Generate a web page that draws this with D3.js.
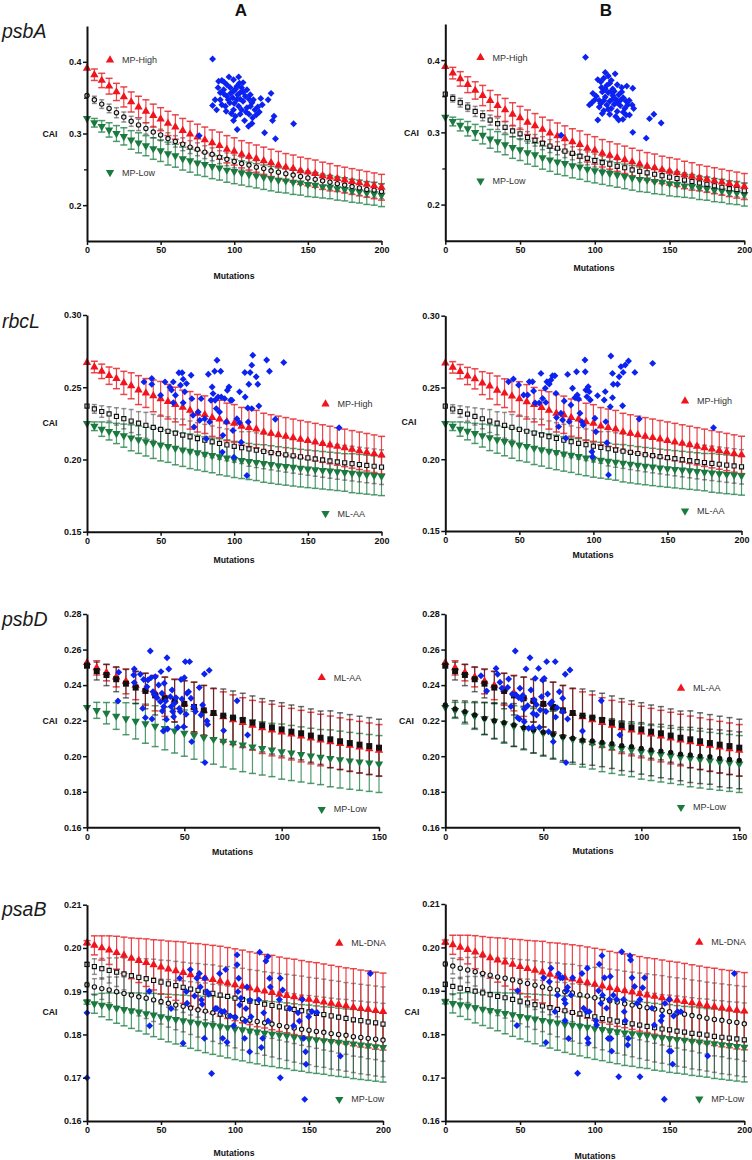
<!DOCTYPE html>
<html>
<head>
<meta charset="utf-8">
<script src="https://cdn.jsdelivr.net/npm/d3@7/dist/d3.min.js"></script>
<style>
  body { margin: 0; background: #fff; }
  svg { display: block; font-family: Arial, "Liberation Sans", Helvetica, sans-serif; }
</style>
</head>
<body>
<svg id="fig" width="752" height="1160"></svg>
<script>
/* ── CAI vs mutations — 4 genes x 2 columns ─────────────────── */

// x categories (mutation counts)
const MUT200 = [0,5,10,15,20,25,30,35,40,45,50,55,60,65,70,75,80,85,90,95,100,105,110,115,120,125,130,135,140,145,150,155,160,165,170,175,180,185,190,195,200];
const MUT150 = [0,5,10,15,20,25,30,35,40,45,50,55,60,65,70,75,80,85,90,95,100,105,110,115,120,125,130,135,140,145,150];

/* psbA */
const psbA_high   = [0.391,0.382,0.374,0.366,0.358,0.351,0.344,0.337,0.331,0.325,0.320,0.314,0.309,0.304,0.299,0.295,0.291,0.287,0.283,0.278,0.275,0.271,0.268,0.265,0.262,0.259,0.256,0.253,0.251,0.248,0.246,0.244,0.241,0.239,0.237,0.235,0.233,0.231,0.229,0.227,0.225];
const psbA_highSD = [0,0.008,0.010,0.011,0.012,0.014,0.014,0.015,0.016,0.016,0.016,0.017,0.017,0.017,0.018,0.018,0.018,0.018,0.019,0.019,0.019,0.019,0.019,0.019,0.019,0.019,0.019,0.019,0.019,0.019,0.019,0.019,0.019,0.019,0.018,0.018,0.018,0.018,0.018,0.018,0.018];
const psbA_low    = [0.321,0.315,0.310,0.305,0.300,0.296,0.291,0.287,0.283,0.279,0.276,0.272,0.269,0.265,0.262,0.259,0.257,0.254,0.252,0.249,0.247,0.245,0.243,0.241,0.239,0.237,0.235,0.234,0.232,0.231,0.229,0.228,0.226,0.225,0.223,0.222,0.220,0.219,0.217,0.216,0.214];
const psbA_lowSD  = [0,0.006,0.008,0.010,0.011,0.012,0.013,0.014,0.014,0.015,0.015,0.016,0.016,0.016,0.016,0.017,0.017,0.017,0.017,0.017,0.017,0.017,0.017,0.017,0.017,0.017,0.017,0.017,0.017,0.017,0.017,0.017,0.016,0.016,0.016,0.016,0.016,0.016,0.016,0.016,0.016];
const psbA_mid    = [0.353,0.347,0.341,0.335,0.329,0.323,0.317,0.312,0.307,0.302,0.298,0.293,0.289,0.285,0.281,0.278,0.274,0.271,0.267,0.264,0.261,0.258,0.256,0.253,0.251,0.248,0.246,0.244,0.242,0.240,0.238,0.236,0.234,0.232,0.230,0.228,0.226,0.224,0.222,0.221,0.219];
const psbA_midSD  = [0,0.005,0.006,0.006,0.007,0.007,0.007,0.008,0.008,0.008,0.008,0.008,0.008,0.009,0.009,0.009,0.009,0.009,0.009,0.009,0.009,0.009,0.009,0.009,0.009,0.009,0.009,0.010,0.010,0.010,0.010,0.010,0.010,0.010,0.010,0.010,0.010,0.010,0.010,0.010,0.010];
const psbA_blueA = [[85.3,0.404],[76.2,0.297],[85.3,0.339],[140.3,0.3135],[128,0.2926],[120.6,0.301],[102,0.3056],[125,0.356],[127,0.324],[126,0.318],[118,0.349],[109.7,0.310],[112,0.314],[103,0.379],[96.4,0.379],[89.4,0.373],[91.6,0.374],[99.5,0.375],[108.6,0.361],[106,0.371],[88,0.333],[90.5,0.347],[95,0.352],[99.5,0.359],[101.8,0.347],[104,0.357],[97,0.343],[99.5,0.333],[103,0.338],[106,0.345],[108.6,0.336],[112,0.343],[114,0.333],[115,0.326],[100.7,0.324],[97.3,0.364],[92.8,0.361],[90.5,0.357],[105,0.364],[110.9,0.354],[113,0.347],[94,0.338],[104,0.327],[95,0.368],[101.8,0.366],[107.5,0.352],[91.6,0.340],[87,0.347],[98.9,0.350],[102.3,0.354],[105,0.333],[110,0.327],[99.5,0.318],[93,0.372],[97.5,0.356],[100,0.342],[108,0.330],[111,0.338],[116,0.337],[104,0.348],[96,0.347],[93,0.355],[106,0.358],[101,0.362],[110,0.348],[98,0.328],[112.5,0.322],[89,0.364],[103.5,0.370],[117,0.330],[94.5,0.331],[107,0.318],[123,0.347],[119,0.340]];
const psbA_blueB = [[93.8,0.404],[77.5,0.296],[102,0.317],[125.4,0.300],[134.4,0.292],[144.4,0.313],[136.6,0.319],[139.5,0.325],[96.4,0.338],[107,0.383],[113.6,0.381],[102,0.373],[125.4,0.361],[121.4,0.364],[116,0.317],[118.8,0.318],[123.2,0.324],[98.7,0.354],[104,0.370],[106,0.375],[109,0.378],[111,0.372],[104.5,0.362],[108,0.365],[112,0.360],[115,0.366],[118,0.356],[101,0.350],[103,0.344],[105,0.356],[107,0.349],[109,0.355],[110,0.343],[112,0.351],[114,0.346],[116,0.352],[119,0.348],[121,0.343],[108,0.338],[111,0.333],[113,0.339],[115,0.329],[117,0.337],[120,0.333],[122,0.338],[106,0.330],[110,0.325],[104,0.340],[100,0.345],[98,0.341],[113,0.357],[117,0.344],[119,0.328],[123,0.344],[125,0.338],[107,0.360],[110,0.368],[103,0.335],[109,0.332],[114,0.322],[121,0.324],[126,0.333],[112,0.346],[115,0.341],[106,0.344],[118,0.362],[111,0.357],[105,0.326]];

/* rbcL */
const rbcL_high   = [0.267,0.264,0.261,0.258,0.256,0.253,0.251,0.248,0.246,0.244,0.242,0.240,0.238,0.236,0.234,0.232,0.231,0.229,0.228,0.226,0.225,0.223,0.222,0.221,0.219,0.218,0.217,0.216,0.215,0.214,0.213,0.212,0.211,0.210,0.209,0.208,0.207,0.206,0.205,0.204,0.203];
const rbcL_highSD = [0,0.004,0.005,0.006,0.007,0.008,0.009,0.010,0.010,0.011,0.012,0.012,0.012,0.012,0.013,0.013,0.013,0.013,0.013,0.013,0.013,0.013,0.013,0.013,0.013,0.013,0.013,0.013,0.013,0.013,0.013,0.013,0.013,0.013,0.013,0.013,0.013,0.013,0.013,0.013,0.013];
const rbcL_aa     = [0.225,0.223,0.221,0.2195,0.218,0.2165,0.215,0.2137,0.2124,0.2112,0.210,0.209,0.2078,0.2067,0.2057,0.2047,0.2037,0.2028,0.2019,0.201,0.200,0.1993,0.1986,0.1979,0.1972,0.1965,0.1958,0.1952,0.1946,0.194,0.1935,0.193,0.1925,0.192,0.1915,0.191,0.1905,0.19,0.1895,0.189,0.1885];
const rbcL_aaSD   = [0,0.003,0.005,0.006,0.007,0.008,0.009,0.0095,0.010,0.0105,0.011,0.011,0.0115,0.0115,0.012,0.012,0.012,0.012,0.0125,0.0125,0.0125,0.0125,0.0125,0.0125,0.013,0.013,0.013,0.013,0.013,0.013,0.013,0.013,0.013,0.013,0.013,0.013,0.0135,0.0135,0.0135,0.0135,0.0135];
const rbcL_mid    = [0.2370,0.2350,0.2332,0.2315,0.2298,0.2282,0.2266,0.2251,0.2236,0.2222,0.2208,0.2195,0.2182,0.2169,0.2157,0.2145,0.2133,0.2122,0.2111,0.2101,0.2091,0.2082,0.2073,0.2064,0.2056,0.2048,0.2040,0.2032,0.2025,0.2018,0.2011,0.2004,0.1997,0.1990,0.1983,0.1977,0.1971,0.1965,0.1959,0.1953,0.1947];
const rbcL_midSD  = [0,0.003,0.004,0.005,0.006,0.007,0.008,0.008,0.009,0.009,0.010,0.010,0.010,0.011,0.011,0.011,0.011,0.011,0.011,0.011,0.011,0.011,0.012,0.012,0.012,0.012,0.012,0.012,0.012,0.012,0.012,0.012,0.012,0.012,0.012,0.012,0.012,0.012,0.012,0.012,0.012];
const rbcL_blueA = [[38.7,0.2537],[44,0.256],[44,0.252],[53,0.2537],[50,0.2444],[56.3,0.250],[57.4,0.248],[58.6,0.2537],[58.6,0.2393],[60.1,0.2444],[62.4,0.260],[64.6,0.260],[63.5,0.2514],[65.3,0.2556],[66.4,0.2468],[65.3,0.2393],[67.6,0.2525],[70.7,0.2583],[71.2,0.2421],[72,0.2306],[72.7,0.2225],[75.5,0.2329],[76.6,0.2271],[77.5,0.2421],[80,0.2282],[81,0.2144],[82.4,0.259],[83.3,0.226],[84.2,0.241],[85,0.2502],[85.6,0.2456],[86.7,0.2611],[87,0.241],[87.8,0.2352],[88.3,0.2687],[89,0.2433],[90,0.2329],[90.8,0.2611],[91.2,0.2433],[91.9,0.2051],[92.3,0.2167],[93.5,0.2421],[94.6,0.2259],[95.3,0.2479],[96.4,0.2502],[97.5,0.241],[98.4,0.241],[99.8,0.2016],[101.8,0.2282],[103.6,0.2468],[104.7,0.212],[107.2,0.2602],[107.4,0.2433],[108.6,0.1889],[109.5,0.2259],[109.9,0.2521],[110.8,0.2602],[111.9,0.2653],[112.6,0.2722],[111.9,0.2352],[114.9,0.2572],[116,0.2521],[116.7,0.237],[122,0.2688],[123.9,0.2611],[127.9,0.2278],[133.6,0.2671],[171.2,0.222],[109.2,0.2356],[99.1,0.2201],[103.6,0.2255]];
const rbcL_blueB = [[42.7,0.254],[46,0.2559],[49.5,0.2517],[52.9,0.2447],[55.6,0.2447],[56.7,0.254],[58.9,0.254],[59.6,0.2475],[60.7,0.2392],[64.6,0.2598],[63.4,0.2392],[65.7,0.2424],[67.5,0.2494],[67.9,0.2396],[68.6,0.254],[70.2,0.2524],[71.3,0.2552],[72.4,0.2582],[74,0.2582],[74.7,0.2459],[75.1,0.229],[76.5,0.2227],[78.1,0.232],[79.2,0.2273],[80.3,0.2406],[81.4,0.2146],[82.6,0.2591],[83.7,0.2262],[84.8,0.2378],[85.9,0.2494],[87.5,0.2429],[88.6,0.261],[89.1,0.2447],[90,0.242],[90.9,0.232],[92.2,0.2262],[93.1,0.2238],[94.3,0.2691],[94.5,0.261],[94.9,0.2482],[95.6,0.2436],[96.5,0.2505],[97.2,0.2471],[97.9,0.2413],[99,0.2053],[99.4,0.2018],[101,0.2285],[101.7,0.2192],[102.8,0.2443],[107.3,0.2413],[108,0.2471],[108.4,0.2262],[109.1,0.2115],[110.2,0.1891],[111.4,0.2366],[111.8,0.2719],[112.9,0.2598],[112.9,0.2429],[113.4,0.2522],[116.3,0.2522],[117.4,0.2575],[118.6,0.2645],[119.7,0.2373],[120.1,0.2605],[121.5,0.2656],[123.7,0.2684],[128,0.2605],[130.9,0.228],[140,0.2668],[181.1,0.222]];

/* psbD */
const psbD_aa     = [0.2526,0.2497,0.2470,0.2445,0.2421,0.2398,0.2376,0.2355,0.2334,0.2314,0.2295,0.2276,0.2258,0.2240,0.2222,0.2205,0.2189,0.2174,0.2160,0.2147,0.2136,0.2124,0.2113,0.2102,0.2091,0.2081,0.2071,0.2061,0.2051,0.2042,0.2033];
const psbD_aaSD   = [0,0.004,0.0046,0.0055,0.007,0.008,0.009,0.010,0.011,0.012,0.013,0.014,0.014,0.014,0.014,0.014,0.014,0.014,0.0145,0.0145,0.0145,0.0145,0.0145,0.0145,0.0145,0.0145,0.0145,0.0145,0.0145,0.0145,0.0145];
const psbD_sq     = [0.2509,0.2479,0.2457,0.2433,0.2408,0.2386,0.2367,0.2342,0.2326,0.2311,0.2294,0.2277,0.2258,0.2243,0.2228,0.2217,0.2204,0.2189,0.2174,0.2162,0.2151,0.2138,0.2129,0.2116,0.2104,0.2095,0.2084,0.2074,0.2065,0.2057,0.2048];
const psbD_sqSD   = [0,0.005,0.006,0.007,0.008,0.009,0.010,0.011,0.012,0.012,0.013,0.014,0.014,0.014,0.015,0.015,0.015,0.015,0.015,0.015,0.015,0.015,0.015,0.015,0.015,0.016,0.016,0.016,0.016,0.016,0.016];
const psbD_low    = [0.2275,0.2258,0.2242,0.2226,0.2211,0.2197,0.2183,0.2169,0.2156,0.2143,0.2130,0.2118,0.2106,0.2095,0.2084,0.2073,0.2063,0.2053,0.2044,0.2035,0.2026,0.2018,0.2010,0.2002,0.1995,0.1988,0.1981,0.1974,0.1968,0.1962,0.1956];
const psbD_lowSD  = [0,0.0045,0.006,0.0075,0.009,0.010,0.011,0.0115,0.012,0.0125,0.013,0.0135,0.014,0.014,0.0145,0.0145,0.015,0.015,0.015,0.015,0.0155,0.0155,0.0155,0.0155,0.0155,0.016,0.016,0.016,0.016,0.016,0.016];
const psbD_circ   = [0.2288,0.2266,0.2251,0.2232,0.2213,0.2200,0.2189,0.2176,0.2161,0.2148,0.2135,0.2123,0.2110,0.2101,0.2091,0.2086,0.2078,0.2071,0.2059,0.2054,0.2044,0.2035,0.2029,0.2022,0.2012,0.2007,0.2001,0.1997,0.1988,0.1982,0.1977];
const psbD_circSD = [0,0.0047,0.006,0.0075,0.009,0.010,0.011,0.012,0.012,0.013,0.013,0.0135,0.0135,0.0135,0.0137,0.0137,0.0137,0.014,0.014,0.014,0.0145,0.0145,0.015,0.015,0.015,0.0155,0.0155,0.0155,0.016,0.016,0.016];
const psbD_blueA = [[16.3,0.2472],[15.9,0.2311],[24,0.2457],[24.3,0.2491],[24.3,0.2414],[27.4,0.2461],[28.6,0.2269],[29.1,0.2432],[30,0.2217],[30.8,0.2391],[31.3,0.2429],[32.5,0.2592],[32.9,0.2442],[33.4,0.2209],[33.9,0.2363],[34.6,0.2348],[35.1,0.2447],[36,0.2329],[36.8,0.2401],[37.7,0.2307],[38,0.2476],[38.5,0.2354],[38.7,0.2254],[39.2,0.2142],[39.4,0.2279],[39.7,0.241],[40.4,0.2311],[40.8,0.2207],[41.1,0.2554],[41.4,0.2153],[42,0.2491],[42.8,0.2335],[43.2,0.2279],[43.7,0.2372],[44,0.2251],[44.5,0.2222],[44.9,0.2297],[45.7,0.2329],[46.6,0.2161],[47.4,0.2269],[47.9,0.2251],[48.3,0.2432],[48.8,0.2322],[49.7,0.2166],[50,0.2442],[50.5,0.2532],[50.9,0.2236],[51.4,0.2354],[52.2,0.2363],[52.7,0.2532],[53.4,0.2326],[53.8,0.2082],[54.8,0.2279],[55.7,0.2251],[57.7,0.2386],[58.6,0.2232],[59.4,0.2288],[60.3,0.2462],[60.6,0.1964],[61.6,0.2198],[62,0.2179],[62.8,0.2483],[70.2,0.2144],[77.1,0.2312],[82.5,0.2119]];
const psbD_blueB = [[18.2,0.2453],[21.1,0.2367],[25.9,0.2494],[26.7,0.2461],[27.9,0.2416],[28.9,0.2382],[32.3,0.2434],[35.7,0.2592],[36.1,0.2344],[36.9,0.2217],[37.8,0.2209],[38.1,0.2382],[39.5,0.2341],[40.3,0.2266],[41.2,0.2491],[42,0.2284],[43.2,0.2554],[43.7,0.2372],[44.6,0.2161],[45.4,0.2316],[45.9,0.2438],[46.6,0.2232],[47.6,0.2494],[48,0.2161],[49.1,0.2335],[49.7,0.2429],[50.5,0.2438],[51.4,0.2251],[51.7,0.2532],[52.2,0.235],[52.7,0.2138],[54.4,0.2307],[55.1,0.2082],[56.1,0.2532],[57,0.2273],[58.2,0.2363],[59.9,0.2326],[61.2,0.2461],[61.6,0.1964],[62.4,0.2209],[63.6,0.2485],[59.9,0.2251],[40.3,0.2194],[42.5,0.2157],[31.8,0.2387],[34.2,0.2350],[37.4,0.2330],[39,0.2320],[33.5,0.2280],[44.8,0.2240],[46.5,0.2290],[48.4,0.2260],[53.5,0.2295],[56.3,0.2220],[79.6,0.2312],[70,0.2142],[89.1,0.2119]];

/* psaB */
const psaB_dna     = [0.2012,0.2006,0.2000,0.1995,0.1989,0.1983,0.1976,0.1971,0.1966,0.1961,0.1956,0.1951,0.1947,0.1943,0.1938,0.1934,0.1930,0.1927,0.1923,0.1919,0.1915,0.1911,0.1907,0.1903,0.1900,0.1897,0.1893,0.1890,0.1887,0.1884,0.1881,0.1878,0.1875,0.1872,0.1869,0.1866,0.1863,0.1860,0.1858,0.1855,0.1853];
const psaB_dnaSD   = [0.0005,0.0022,0.0028,0.0033,0.0038,0.0042,0.0047,0.0051,0.0055,0.0058,0.0062,0.0065,0.0068,0.0071,0.0073,0.0076,0.0078,0.0079,0.0081,0.0082,0.0083,0.0084,0.0084,0.0085,0.0085,0.0086,0.0086,0.0086,0.0087,0.0087,0.0087,0.0088,0.0088,0.0088,0.0088,0.0088,0.0089,0.0089,0.0089,0.0089,0.0089];
const psaB_upper   = [0.1962,0.1957,0.1952,0.1948,0.1944,0.1940,0.1936,0.1932,0.1929,0.1925,0.1921,0.1917,0.1913,0.1909,0.1905,0.1902,0.1898,0.1895,0.1891,0.1888,0.1884,0.1881,0.1877,0.1874,0.1870,0.1867,0.1864,0.1861,0.1858,0.1855,0.1852,0.1849,0.1846,0.1843,0.1840,0.1837,0.1834,0.1832,0.1829,0.1827,0.1824];
const psaB_upperSD = [0.0005,0.0018,0.0024,0.0029,0.0033,0.0037,0.0040,0.0043,0.0046,0.0049,0.0051,0.0054,0.0056,0.0058,0.0060,0.0062,0.0064,0.0066,0.0067,0.0069,0.0070,0.0072,0.0073,0.0074,0.0075,0.0076,0.0077,0.0078,0.0079,0.0080,0.0080,0.0081,0.0082,0.0082,0.0083,0.0083,0.0084,0.0084,0.0085,0.0085,0.0086];
const psaB_lower   = [0.1915,0.1910,0.1906,0.1903,0.1899,0.1895,0.1891,0.1887,0.1884,0.1880,0.1876,0.1872,0.1868,0.1865,0.1861,0.1857,0.1854,0.1850,0.1847,0.1843,0.1840,0.1836,0.1833,0.1830,0.1827,0.1824,0.1821,0.1818,0.1815,0.1812,0.1810,0.1807,0.1805,0.1802,0.1800,0.1798,0.1795,0.1793,0.1791,0.1789,0.1787];
const psaB_lowerSD = [0.0005,0.0019,0.0025,0.0030,0.0034,0.0038,0.0041,0.0044,0.0047,0.0050,0.0052,0.0055,0.0057,0.0059,0.0061,0.0063,0.0065,0.0066,0.0068,0.0069,0.0071,0.0072,0.0073,0.0074,0.0075,0.0076,0.0077,0.0078,0.0079,0.0079,0.0080,0.0081,0.0081,0.0082,0.0082,0.0083,0.0083,0.0084,0.0084,0.0085,0.0085];
const psaB_low     = [0.1875,0.1871,0.1868,0.1865,0.1861,0.1858,0.1855,0.1852,0.1848,0.1845,0.1841,0.1838,0.1835,0.1832,0.1829,0.1826,0.1823,0.1821,0.1818,0.1816,0.1813,0.1811,0.1808,0.1806,0.1803,0.1801,0.1799,0.1797,0.1794,0.1792,0.1790,0.1788,0.1786,0.1784,0.1782,0.1780,0.1778,0.1776,0.1774,0.1772,0.1770];
const psaB_lowSD   = [0.0005,0.0022,0.0027,0.0031,0.0035,0.0038,0.0041,0.0044,0.0047,0.0050,0.0052,0.0055,0.0057,0.0059,0.0061,0.0063,0.0065,0.0067,0.0068,0.0070,0.0071,0.0072,0.0073,0.0074,0.0075,0.0075,0.0076,0.0076,0.0077,0.0077,0.0078,0.0078,0.0078,0.0079,0.0079,0.0079,0.0080,0.0080,0.0080,0.0080,0.0080];
const psaB_blueA = [[0,0.185],[0,0.170],[42.1,0.190],[42.3,0.182],[56.8,0.186],[62.6,0.193],[64.9,0.178],[67.1,0.1899],[67.6,0.1872],[69.8,0.195],[72.7,0.1889],[74.3,0.193],[75.9,0.1941],[76.6,0.191],[77.3,0.188],[77.9,0.187],[79.3,0.1791],[79.5,0.193],[81.1,0.1899],[82.2,0.1893],[84.2,0.171],[86.7,0.186],[87.8,0.186],[89.6,0.1941],[90.8,0.1853],[91.7,0.1791],[92.8,0.1853],[93.7,0.195],[94.6,0.1782],[96.8,0.1843],[99.1,0.182],[100.2,0.184],[101.4,0.1984],[101.4,0.1961],[102,0.1899],[102.5,0.193],[103.2,0.1868],[104,0.1884],[106.5,0.1791],[107,0.1831],[107.4,0.186],[108.1,0.191],[109.9,0.176],[110.1,0.1879],[110.8,0.1841],[116,0.188],[116.7,0.199],[117.8,0.177],[118.7,0.1791],[119.4,0.185],[120.9,0.197],[122.3,0.198],[123.4,0.193],[123.9,0.191],[122.3,0.1831],[130,0.1881],[130.6,0.170],[130.6,0.193],[132.2,0.1903],[137,0.186],[139.6,0.182],[142.6,0.185],[143.5,0.1831],[145.5,0.1881],[146.4,0.1791],[147.1,0.165],[147.7,0.176],[148,0.1731],[149.8,0.1841],[152,0.1853],[155.4,0.1851],[171.2,0.175],[191.4,0.1941]];
const psaB_blueB = [[47.9,0.182],[48.4,0.190],[67.3,0.1781],[65.8,0.193],[69.6,0.1921],[70.7,0.1952],[73.4,0.1852],[75.1,0.189],[75.8,0.1939],[76.9,0.193],[78.5,0.193],[79.6,0.188],[80.3,0.1871],[80.1,0.1831],[81.2,0.190],[81.8,0.1908],[82.5,0.179],[84.1,0.189],[85.2,0.193],[88.5,0.171],[91.4,0.194],[92.5,0.186],[94.5,0.1852],[95,0.1952],[95.2,0.179],[95.7,0.178],[96.3,0.1852],[100.8,0.1831],[101.2,0.1821],[102.5,0.190],[103,0.1961],[104.1,0.1871],[104.8,0.1981],[105.2,0.189],[106.5,0.193],[107.9,0.186],[109,0.179],[109.7,0.188],[110.4,0.1933],[110.8,0.179],[111.3,0.1761],[112.4,0.189],[114.6,0.188],[116,0.1702],[118,0.199],[119.3,0.188],[119.7,0.1852],[120.4,0.1831],[122,0.1775],[122.4,0.179],[123.5,0.1981],[124,0.1971],[124.9,0.193],[126.6,0.191],[128.2,0.1871],[130.2,0.1702],[130.2,0.188],[132,0.1907],[133.3,0.193],[138.2,0.186],[139.8,0.1821],[144.3,0.1831],[145,0.1842],[146.5,0.165],[146.9,0.1871],[149.8,0.188],[149.8,0.1761],[151,0.1761],[152.1,0.1731],[152.7,0.1842],[155.4,0.1852],[157.6,0.1852],[175.5,0.175],[193.3,0.194]];

/* axis ticks */
const psbA_yTicks = [0.2, 0.3, 0.4];
const psbA_yMinor = [0.25, 0.35];
const rbcL_yTicks = [0.15, 0.20, 0.25, 0.30];
const psbD_yTicks = [0.16, 0.18, 0.20, 0.22, 0.24, 0.26, 0.28];
const psaB_yTicks = [0.16, 0.17, 0.18, 0.19, 0.20, 0.21];
const xTicks200 = [0, 50, 100, 150, 200];
const xTicks150 = [0, 50, 100, 150];

/* ── styles ─────────────────────────────────────────────────── */
const RED = '#f2141c';
const GREEN = '#1b7a3f';
const BLUE = '#0b22f0';
const INK = '#111';

const BAR = {
    red:   { stroke: '#e8262c', opacity: 0.85, cap: 7 },
    green: { stroke: '#23824a', opacity: 0.8, cap: 7 },
    gray:  { stroke: '#3a3a3a', opacity: 0.55, cap: 5 },
    dark:  { stroke: '#1a1a1a', opacity: 0.65, cap: 6 },
};

const SIZES = { up: 30, down: 30, sq: 36, sqOpen: 17, circ: 22, circOpen: 15, diamond: 24 };

const svg = d3.select('#fig');

function symbolPath(kind) {
    const size = SIZES[kind] || 20;
    if (kind === 'up' || kind === 'down') return d3.symbol().type(d3.symbolTriangle).size(size)();
    if (kind === 'sq' || kind === 'sqOpen' || kind === 'diamond') return d3.symbol().type(d3.symbolSquare).size(size)();
    return d3.symbol().type(d3.symbolCircle).size(size)();
}

function drawSymbol(sel, kind, color) {
    const rot = kind === 'down' ? ' rotate(180)' : kind === 'diamond' ? ' rotate(45)' : '';
    const open = kind === 'sqOpen' || kind === 'circOpen';
    sel.append('path')
        .attr('d', symbolPath(kind))
        .attr('transform', d => `translate(${d.px},${d.py})${rot}`)
        .attr('fill', open ? '#e6e6e6' : color)
        .attr('stroke', open ? color : 'none')
        .attr('stroke-width', open ? 1.1 : 0);
}

function drawPanel(p) {
    const g = svg.append('g');
    const x = d3.scaleLinear().domain([0, p.xMax]).range([p.x0, p.x1]);
    const y = d3.scaleLinear().domain(p.yDom).range([p.yB, p.yT]);

    // error bars
    p.series.forEach(s => {
        const st = BAR[s.bar];
        const rows = s.x.map((xv, i) => ({ x: xv, m: s.m[i], sd: s.sd[i] })).filter(d => d.sd > 0);
        const eg = g.append('g').attr('stroke', st.stroke).attr('stroke-opacity', st.opacity).attr('stroke-width', 1.2);
        rows.forEach(d => {
            const cx = x(d.x), yt = y(d.m + d.sd), yb = y(d.m - d.sd);
            eg.append('line').attr('x1', cx).attr('x2', cx).attr('y1', yt).attr('y2', yb);
            eg.append('line').attr('x1', cx - st.cap / 2).attr('x2', cx + st.cap / 2).attr('y1', yt).attr('y2', yt).attr('stroke-width', 1.5);
            eg.append('line').attr('x1', cx - st.cap / 2).attr('x2', cx + st.cap / 2).attr('y1', yb).attr('y2', yb).attr('stroke-width', 1.5);
        });
    });

    // mean markers
    p.series.forEach(s => {
        const pts = s.x.map((xv, i) => ({ px: x(xv), py: y(s.m[i]) }));
        const mg = g.append('g').selectAll('g').data(pts).enter().append('g');
        drawSymbol(mg, s.kind, s.color);
    });

    // blue scatter
    const bp = p.blue.map(d => ({ px: x(d[0]), py: y(d[1]) }));
    drawSymbol(g.append('g').selectAll('g').data(bp).enter().append('g'), 'diamond', BLUE);

    // axes
    const xa = g.append('g').attr('transform', `translate(0,${p.yB})`)
        .call(d3.axisBottom(x).tickValues(p.xTicks).tickSize(4).tickSizeOuter(0).tickPadding(2).tickFormat(d3.format('d')));
    const ya = g.append('g').attr('transform', `translate(${p.x0},0)`)
        .call(d3.axisLeft(y).tickValues(p.yTicks).tickSize(4).tickSizeOuter(0).tickPadding(1.5).tickFormat(d3.format(p.fmt)));
    if (p.yMinor) {
        const mi = g.append('g').attr('transform', `translate(${p.x0},0)`)
            .call(d3.axisLeft(y).tickValues(p.yMinor).tickSize(3).tickFormat(''));
        mi.select('.domain').remove();
        mi.selectAll('line').attr('stroke', INK).attr('stroke-width', 1.3);
    }
    [xa, ya].forEach(a => {
        a.select('.domain').attr('stroke', INK).attr('stroke-width', 2);
        a.selectAll('.tick line').attr('stroke', INK).attr('stroke-width', 1.5);
        a.selectAll('.tick text').attr('fill', INK).attr('font-size', 9).attr('font-weight', 'bold')
            .attr('font-family', 'Arial, "Liberation Sans", sans-serif');
    });

    // axis titles
    g.append('text').attr('x', p.caiX).attr('y', p.caiY).attr('text-anchor', 'middle')
        .attr('dominant-baseline', 'central').attr('font-size', 8.7).attr('font-weight', 'bold')
        .attr('fill', INK).text('CAI');
    g.append('text').attr('x', p.mutX).attr('y', p.mutY).attr('text-anchor', 'middle')
        .attr('dominant-baseline', 'central').attr('font-size', 8.7).attr('font-weight', 'bold')
        .attr('fill', INK).text('Mutations');

    // legend
    p.legend.forEach(l => {
        const lg = g.append('g').selectAll('g').data([{ px: l.x, py: l.y }]).enter().append('g');
        drawSymbol(lg, l.kind, l.color);
        g.append('text').attr('x', l.x + 12).attr('y', l.y).attr('dominant-baseline', 'central')
            .attr('font-size', 9).attr('fill', '#333').text(l.text);
    });
}

/* ── panel layout ───────────────────────────────────────────── */
const hi = (x, m, sd) => ({ x, m, sd, kind: 'up', color: RED, bar: 'red' });
const lo = (x, m, sd) => ({ x, m, sd, kind: 'down', color: GREEN, bar: 'green' });
const blk = (x, m, sd, kind, bar) => ({ x, m, sd, kind, color: '#111', bar: bar || 'gray' });

const panels = [
    // psbA
    { x0: 87, x1: 381.5, yB: 241, yT: 26, xMax: 200, yDom: [0.15, 0.45], yTicks: psbA_yTicks, yMinor: psbA_yMinor, fmt: '.1f', xTicks: xTicks200,
      caiX: 50, caiY: 134, mutX: 234, mutY: 276,
      series: [lo(MUT200, psbA_low, psbA_lowSD), blk(MUT200, psbA_mid, psbA_midSD, 'circOpen'), hi(MUT200, psbA_high, psbA_highSD)],
      blue: psbA_blueA,
      legend: [{ kind: 'up', color: RED, text: 'MP-High', x: 110, y: 60 }, { kind: 'down', color: GREEN, text: 'MP-Low', x: 110, y: 172.5 }] },
    { x0: 445.3, x1: 744.3, yB: 240.7, yT: 24, xMax: 200, yDom: [0.15, 0.45], yTicks: psbA_yTicks, yMinor: psbA_yMinor, fmt: '.1f', xTicks: xTicks200,
      caiX: 411.5, caiY: 133, mutX: 594, mutY: 268,
      series: [lo(MUT200, psbA_low, psbA_lowSD), blk(MUT200, psbA_mid, psbA_midSD, 'sqOpen'), hi(MUT200, psbA_high, psbA_highSD)],
      blue: psbA_blueB,
      legend: [{ kind: 'up', color: RED, text: 'MP-High', x: 480.5, y: 57.5 }, { kind: 'down', color: GREEN, text: 'MP-Low', x: 480.5, y: 181 }] },
    // rbcL
    { x0: 87, x1: 381.5, yB: 531.7, yT: 315, xMax: 200, yDom: [0.15, 0.30], yTicks: rbcL_yTicks, fmt: '.2f', xTicks: xTicks200,
      caiX: 50, caiY: 422.7, mutX: 234, mutY: 560,
      series: [lo(MUT200, rbcL_aa, rbcL_aaSD), blk(MUT200, rbcL_mid, rbcL_midSD, 'sqOpen'), hi(MUT200, rbcL_high, rbcL_highSD)],
      blue: rbcL_blueA,
      legend: [{ kind: 'up', color: RED, text: 'MP-High', x: 325.5, y: 404 }, { kind: 'down', color: GREEN, text: 'ML-AA', x: 325.5, y: 513.5 }] },
    { x0: 445.3, x1: 741.5, yB: 531, yT: 315.7, xMax: 200, yDom: [0.15, 0.30], yTicks: rbcL_yTicks, fmt: '.2f', xTicks: xTicks200,
      caiX: 409, caiY: 422, mutX: 593, mutY: 555,
      series: [lo(MUT200, rbcL_aa, rbcL_aaSD), blk(MUT200, rbcL_mid, rbcL_midSD, 'sqOpen'), hi(MUT200, rbcL_high, rbcL_highSD)],
      blue: rbcL_blueB,
      legend: [{ kind: 'up', color: RED, text: 'MP-High', x: 685, y: 401 }, { kind: 'down', color: GREEN, text: 'ML-AA', x: 685, y: 511 }] },
    // psbD
    { x0: 87, x1: 379, yB: 827.3, yT: 614, xMax: 150, yDom: [0.16, 0.28], yTicks: psbD_yTicks, fmt: '.2f', xTicks: xTicks150,
      caiX: 50, caiY: 720.7, mutX: 232.5, mutY: 851.7,
      series: [lo(MUT150, psbD_low, psbD_lowSD), hi(MUT150, psbD_aa, psbD_aaSD), blk(MUT150, psbD_sq, psbD_sqSD, 'sq', 'dark')],
      blue: psbD_blueA,
      legend: [{ kind: 'up', color: RED, text: 'ML-AA', x: 321.7, y: 677.7 }, { kind: 'down', color: GREEN, text: 'MP-Low', x: 321.7, y: 809.3 }] },
    { x0: 445.3, x1: 739.3, yB: 827.3, yT: 614, xMax: 150, yDom: [0.16, 0.28], yTicks: psbD_yTicks, fmt: '.2f', xTicks: xTicks150,
      caiX: 406.5, caiY: 721, mutX: 593, mutY: 851,
      series: [lo(MUT150, psbD_low, psbD_lowSD), hi(MUT150, psbD_aa, psbD_aaSD), blk(MUT150, psbD_sq, psbD_sqSD, 'sq', 'dark'), blk(MUT150, psbD_circ, psbD_circSD, 'circ', 'dark')],
      blue: psbD_blueB,
      legend: [{ kind: 'up', color: RED, text: 'ML-AA', x: 681, y: 688.3 }, { kind: 'down', color: GREEN, text: 'MP-Low', x: 681, y: 807.3 }] },
    // psaB
    { x0: 87, x1: 383, yB: 1121, yT: 904.7, xMax: 200, yDom: [0.16, 0.21], yTicks: psaB_yTicks, fmt: '.2f', xTicks: xTicks200,
      caiX: 50, caiY: 1011.7, mutX: 234, mutY: 1152.7,
      series: [lo(MUT200, psaB_low, psaB_lowSD), blk(MUT200, psaB_lower, psaB_lowerSD, 'circOpen'), blk(MUT200, psaB_upper, psaB_upperSD, 'sqOpen'), hi(MUT200, psaB_dna, psaB_dnaSD)],
      blue: psaB_blueA,
      legend: [{ kind: 'up', color: RED, text: 'ML-DNA', x: 339.3, y: 943.3 }, { kind: 'down', color: GREEN, text: 'MP-Low', x: 339.3, y: 1099.3 }] },
    { x0: 445.3, x1: 744.3, yB: 1121, yT: 904, xMax: 200, yDom: [0.16, 0.21], yTicks: psaB_yTicks, fmt: '.2f', xTicks: xTicks200,
      caiX: 412, caiY: 1012, mutX: 595, mutY: 1155.7,
      series: [lo(MUT200, psaB_low, psaB_lowSD), blk(MUT200, psaB_lower, psaB_lowerSD, 'sqOpen'), blk(MUT200, psaB_upper, psaB_upperSD, 'circOpen'), hi(MUT200, psaB_dna, psaB_dnaSD)],
      blue: psaB_blueB,
      legend: [{ kind: 'up', color: RED, text: 'ML-DNA', x: 699.3, y: 942.3 }, { kind: 'down', color: GREEN, text: 'MP-Low', x: 699.3, y: 1099 }] },
];

panels.forEach(drawPanel);

// column titles
svg.append('text').attr('x', 241).attr('y', 15.5).attr('text-anchor', 'middle')
    .attr('font-size', 17).attr('font-weight', 'bold').attr('fill', INK).text('A');
svg.append('text').attr('x', 606).attr('y', 15.5).attr('text-anchor', 'middle')
    .attr('font-size', 17).attr('font-weight', 'bold').attr('fill', INK).text('B');

// gene labels
const genes = [['psbA', 37.5], ['rbcL', 327.5], ['psbD', 625.5], ['psaB', 915.5]];
genes.forEach(([name, yy]) => {
    svg.append('text').attr('x', 2).attr('y', yy).attr('font-size', 19.5)
        .attr('font-style', 'italic').attr('fill', '#1a1a1a').text(name);
});
</script>
</body>
</html>
